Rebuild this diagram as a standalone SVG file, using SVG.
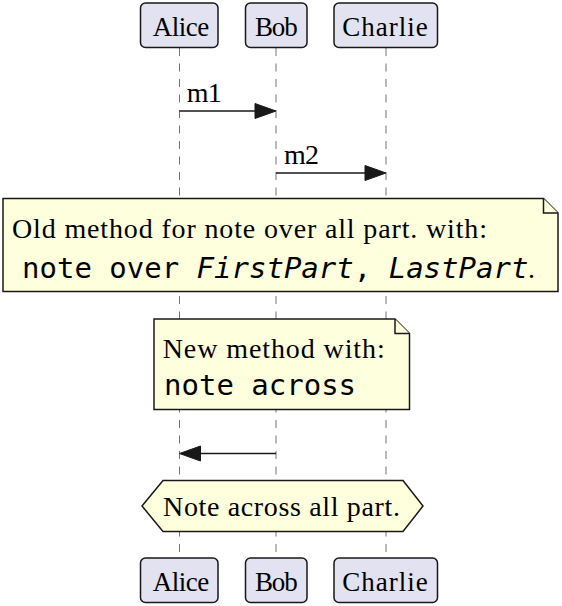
<svg xmlns="http://www.w3.org/2000/svg" width="562" height="606" viewBox="0 0 562 606">
  <style>
    .part rect { fill: #E2E2F0; stroke: #181818; stroke-width: 1.5; }
    .part text { font-size: 27px; }
    .serif { font-family: "Liberation Serif", "Times New Roman", serif; font-size: 28px; fill: #000; }
    .mono { font-family: "DejaVu Sans Mono", "Liberation Mono", monospace; font-size: 29px; fill: #000; }
    .life { stroke: #181818; stroke-width: 1; stroke-dasharray: 8 7.5; opacity: 0.6; }
    .msg { stroke: #181818; stroke-width: 1.5; fill: none; }
    .head { fill: #181818; stroke: #181818; stroke-width: 1; }
    .note { fill: #FEFFDD; stroke: #181818; stroke-width: 1.5; }
  </style>

  <!-- lifelines -->
  <g id="lifelines">
    <line class="life" x1="179.5" y1="48" x2="179.5" y2="558"/>
    <line class="life" x1="276" y1="48" x2="276" y2="558"/>
    <line class="life" x1="386" y1="48" x2="386" y2="558"/>
  </g>

  <!-- participants (head) -->
  <g id="alice-top" class="part">
    <rect x="140.5" y="3" width="77.5" height="44.5" rx="5"/>
    <text class="serif" x="152.7" y="36" textLength="56.6">Alice</text>
  </g>
  <g id="bob-top" class="part">
    <rect x="245.5" y="3" width="61.5" height="44.5" rx="5"/>
    <text class="serif" x="255" y="36" textLength="42.7">Bob</text>
  </g>
  <g id="charlie-top" class="part">
    <rect x="334" y="3" width="103.5" height="44.5" rx="5"/>
    <text class="serif" x="342.3" y="36" textLength="85.4">Charlie</text>
  </g>

  <!-- participants (foot) -->
  <g id="alice-bottom" class="part">
    <rect x="140.5" y="558" width="77.5" height="44.5" rx="5"/>
    <text class="serif" x="152.7" y="591" textLength="56.6">Alice</text>
  </g>
  <g id="bob-bottom" class="part">
    <rect x="245.5" y="558" width="61.5" height="44.5" rx="5"/>
    <text class="serif" x="255" y="591" textLength="42.7">Bob</text>
  </g>
  <g id="charlie-bottom" class="part">
    <rect x="334" y="558" width="103.5" height="44.5" rx="5"/>
    <text class="serif" x="342.3" y="591" textLength="85.4">Charlie</text>
  </g>

  <!-- messages -->
  <g id="connectors">
    <line class="msg" x1="179.5" y1="111" x2="258" y2="111"/>
    <polygon class="head" points="255,103.5 276,111 255,118.5"/>
    <text class="serif" x="186.7" y="102" textLength="35">m1</text>

    <line class="msg" x1="276" y1="173" x2="368" y2="173"/>
    <polygon class="head" points="365,165.5 386,173 365,180.5"/>
    <text class="serif" x="284" y="164" textLength="35">m2</text>

    <line class="msg" x1="197" y1="453.5" x2="276" y2="453.5"/>
    <polygon class="head" points="200.5,446 179.5,453.5 200.5,461"/>
  </g>

  <!-- note spanning all participants (old syntax) -->
  <g id="note-over">
    <path class="note" d="M3,198.5 H543.5 L558,213 V291.5 H3 Z"/>
    <path class="note" d="M543.5,198.5 V213 H558"/>
    <text class="serif" x="12" y="238" textLength="475">Old method for note over all part. with:</text>
    <text class="mono" y="278"><tspan x="22">note over </tspan><tspan font-style="italic">FirstPart</tspan><tspan>, </tspan><tspan font-style="italic">LastPart</tspan></text>
    <text class="serif" x="528" y="278">.</text>
  </g>

  <!-- note across (new syntax) -->
  <g id="note-across-help">
    <path class="note" d="M154,319 H395 L409.5,333.5 V409.5 H154 Z"/>
    <path class="note" d="M395,319 V333.5 H409.5"/>
    <text class="serif" x="162.7" y="358" textLength="222">New method with:</text>
    <text class="mono" x="164" y="395">note across</text>
  </g>

  <!-- hexagonal note across all participants -->
  <g id="note-across">
    <polygon class="note" points="142,506 163,480.5 403,480.5 423,506 403,531.5 163,531.5"/>
    <text class="serif" x="163" y="516" textLength="237">Note across all part.</text>
  </g>
</svg>
